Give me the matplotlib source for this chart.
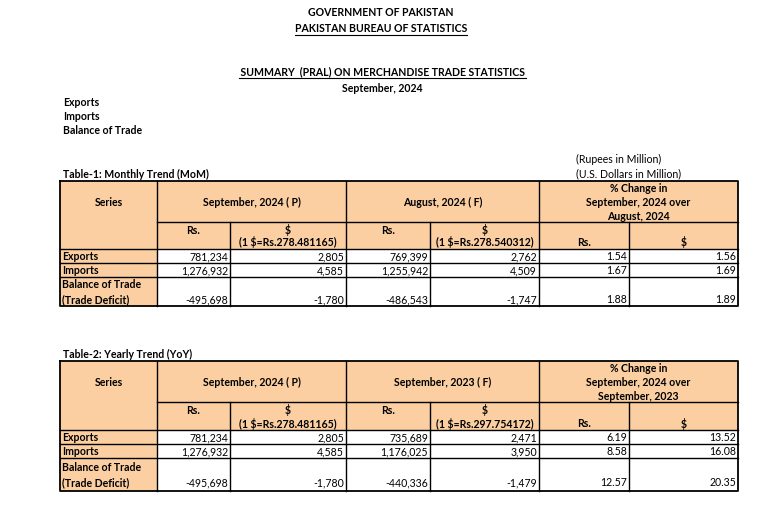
import matplotlib.pyplot as plt
from matplotlib.patches import Rectangle

plt.rcParams['font.family'] = ['Lato', 'DejaVu Sans']

series = ['Exports', 'Imports', 'Balance of Trade\n(Trade Deficit)']

sep24_rs = [781234, 1276932, -495698]
sep24_usd = [2805, 4585, -1780]
aug24_rs = [769399, 1255942, -486543]
aug24_usd = [2762, 4509, -1747]
mom_pct_rs = [1.54, 1.67, 1.88]
mom_pct_usd = [1.56, 1.69, 1.89]

sep23_rs = [735689, 1176025, -440336]
sep23_usd = [2471, 3950, -1479]
yoy_pct_rs = [6.19, 8.58, 12.57]
yoy_pct_usd = [13.52, 16.08, 20.35]

rate_sep24 = '278.481165'
rate_aug24 = '278.540312'
rate_sep23 = '297.754172'

PEACH = '#FBCFA2'
FS = 7.6
cols = [60, 157, 230, 346, 430, 539, 629, 738]

fig = plt.figure(figsize=(7.66, 5.21), dpi=100)
ax = fig.add_axes([0, 0, 1, 1])
ax.set_xlim(0, 766)
ax.set_ylim(521, 0)
ax.axis('off')


def txt(x, y, s, ha='left', bold=True, **kw):
    return ax.text(x, y, s, ha=ha, va='center', fontsize=FS,
                   fontweight='bold' if bold else 'normal', **kw)


def underline(t):
    fig.canvas.draw()
    bb = t.get_window_extent().transformed(ax.transData.inverted())
    y = max(bb.y0, bb.y1) + 0.5
    ax.plot([bb.x0, bb.x1], [y, y], color='black', lw=0.8)


def draw_table(top, rows, title, p1, p2, r1, r2, pct_title, vals):
    h1, h2, e1, e2, e3 = rows
    c = cols
    # fills
    ax.add_patch(Rectangle((c[0], top), c[-1] - c[0], h2 - top, fc=PEACH, ec='none'))
    ax.add_patch(Rectangle((c[0], h2), c[1] - c[0], e3 - h2, fc=PEACH, ec='none'))
    lw = 1.0
    # lines
    ax.plot([c[1], c[-1]], [h1, h1], color='black', lw=lw)
    for y in (h2, e1, e2):
        ax.plot([c[0], c[-1]], [y, y], color='black', lw=lw)
    for x in (c[1], c[3], c[5]):
        ax.plot([x, x], [top, e3], color='black', lw=lw)
    for x in (c[2], c[4], c[6]):
        ax.plot([x, x], [h1, e3], color='black', lw=lw)
    ax.plot([c[0], c[-1], c[-1], c[0], c[0]], [top, top, e3, e3, top], color='black', lw=1.3)

    txt(c[0] + 3, top - 7, title)
    ym = (top + h1) / 2 + 1
    txt((c[0] + c[1]) / 2, ym, 'Series', ha='center')
    txt((c[1] + c[3]) / 2, ym, p1, ha='center')
    txt((c[3] + c[5]) / 2, ym, p2, ha='center')
    for i, line in enumerate(pct_title):
        txt((c[5] + c[7]) / 2, ym + (i - 1) * 13.5, line, ha='center')

    yt = h1 + 8.5
    yb = h2 - 6.5
    txt((c[1] + c[2]) / 2, yt, 'Rs.', ha='center')
    txt((c[2] + c[3]) / 2, yt, '$', ha='center')
    txt((c[2] + c[3]) / 2, yb, '(1 $=Rs.%s)' % r1, ha='center')
    txt((c[3] + c[4]) / 2, yt, 'Rs.', ha='center')
    txt((c[4] + c[5]) / 2, yt, '$', ha='center')
    txt((c[4] + c[5]) / 2, yb, '(1 $=Rs.%s)' % r2, ha='center')
    txt((c[5] + c[6]) / 2, yb, 'Rs.', ha='center')
    txt((c[6] + c[7]) / 2, yb, '$', ha='center')

    mid = (e2 + e3) / 2 + 0.5
    ys = [(h2 + e1) / 2 + 0.5, (e1 + e2) / 2 + 0.5, mid + 7.5]
    txt(c[0] + 2, ys[0], series[0])
    txt(c[0] + 2, ys[1], series[1])
    a, b = series[2].split('\n')
    txt(c[0] + 2, mid - 7.5, a)
    txt(c[0] + 2, mid + 7.5, b)
    fmts = ['{:,}', '{:,}', '{:,}', '{:,}', '{:.2f}', '{:.2f}']
    for j, (col, f) in enumerate(zip(vals, fmts)):
        for i, v in enumerate(col):
            txt(c[j + 2] - 2, ys[i], f.format(v), ha='right', bold=False)


# page heading
underline_texts = []
txt(381, 13, 'GOVERNMENT OF PAKISTAN', ha='center')
underline_texts.append(txt(381, 29, 'PAKISTAN BUREAU OF STATISTICS', ha='center'))
underline_texts.append(txt(382, 72, ' SUMMARY  (PRAL) ON MERCHANDISE TRADE STATISTICS', ha='center'))
txt(382, 89, 'September, 2024', ha='center')
txt(63, 103, 'Exports')
txt(63, 117, 'Imports')
txt(63, 131, 'Balance of Trade')
txt(576, 159, '(Rupees in Million)', bold=False)
txt(576, 174, '(U.S. Dollars in Million)', bold=False)

draw_table(181, (222, 249, 263, 277, 306), 'Table-1: Monthly Trend (MoM)',
           'September, 2024 ( P)', 'August, 2024 ( F)', rate_sep24, rate_aug24,
           ['% Change in', 'September, 2024 over', 'August, 2024'],
           [sep24_rs, sep24_usd, aug24_rs, aug24_usd, mom_pct_rs, mom_pct_usd])

draw_table(361, (402, 430, 444, 458, 491), 'Table-2: Yearly Trend (YoY)',
           'September, 2024 ( P)', 'September, 2023 ( F)', rate_sep24, rate_sep23,
           ['% Change in', 'September, 2024 over', 'September, 2023'],
           [sep24_rs, sep24_usd, sep23_rs, sep23_usd, yoy_pct_rs, yoy_pct_usd])

for t in underline_texts:
    underline(t)

plt.savefig('out.png', dpi=100)
